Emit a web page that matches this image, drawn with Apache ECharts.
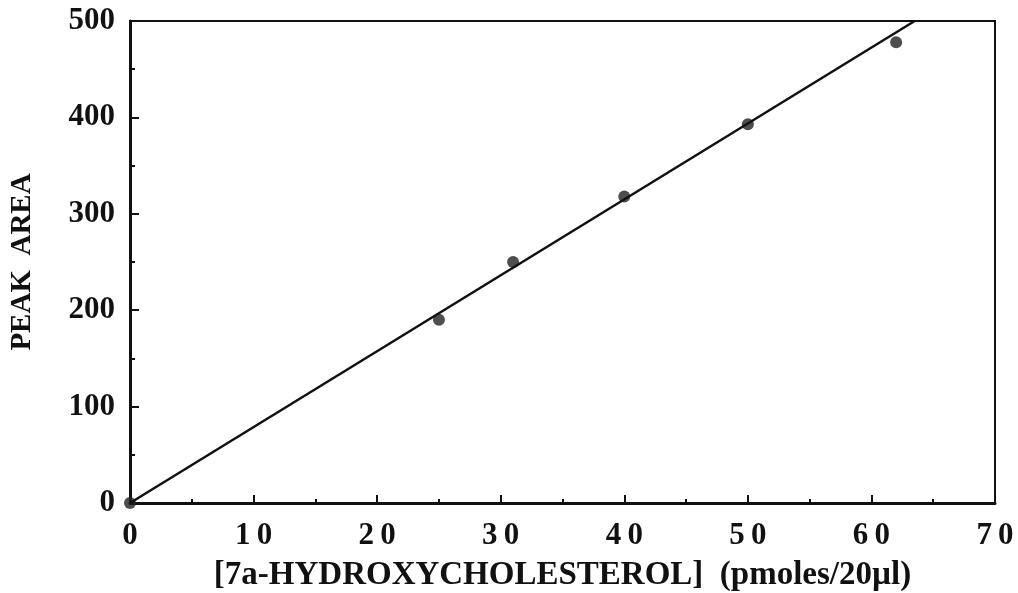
<!DOCTYPE html>
<html><head><meta charset="utf-8">
<script src="https://cdn.jsdelivr.net/npm/echarts@6/dist/echarts.min.js"></script>
<style>html,body{margin:0;padding:0;background:#fff}#c{width:1018px;height:593px}</style>
</head><body><div id="c"></div>
<script>
const pointX = [0, 25, 31, 40, 50, 62];
const pointY = [0, 190, 250, 318, 393, 478];
const lineX = [0, 63.5];
const lineY = [0, 500];
const xTicks = [0, 10, 20, 30, 40, 50, 60, 70];
const yTicks = [0, 100, 200, 300, 400, 500];
const xName = '[7a-HYDROXYCHOLESTEROL]  (pmoles/20\u00b5l)';
const yName = 'PEAK  AREA';

const font = '"Liberation Serif", "Times New Roman", serif';
const chart = echarts.init(document.getElementById('c'));
chart.setOption({
  animation: false,
  backgroundColor: '#fff',
  grid: {left: 130, right: 23, top: 21, bottom: 90, show: true, borderColor: '#111', borderWidth: 2,
         outerBoundsMode: 'none', containLabel: false},
  xAxis: {
    type: 'value', min: 0, max: 70, interval: 10,
    name: xName, nameLocation: 'middle', nameGap: 56,
    nameTextStyle: {fontFamily: font, fontWeight: 'bold', fontSize: 33, color: '#111'},
    axisLine: {lineStyle: {color: '#111', width: 3}},
    axisTick: {inside: true, length: 8, lineStyle: {color: '#111', width: 2}},
    minorTick: {show: true, splitNumber: 2, length: 4, lineStyle: {color: '#111', width: 2}},
    splitLine: {show: false},
    axisLabel: {fontFamily: font, fontWeight: 'bold', fontSize: 31, color: '#111', margin: 17,
      formatter: v => xTicks.includes(v) ? String(v).split('').join('\u2009') : ''}
  },
  yAxis: {
    type: 'value', min: 0, max: 500, interval: 100,
    name: yName, nameLocation: 'middle', nameGap: 93, nameRotate: 90,
    nameTextStyle: {fontFamily: font, fontWeight: 'bold', fontSize: 29, color: '#111'},
    axisLine: {lineStyle: {color: '#111', width: 3}},
    axisTick: {inside: true, length: 9, lineStyle: {color: '#111', width: 2}},
    minorTick: {show: true, splitNumber: 2, length: 5, lineStyle: {color: '#111', width: 2}},
    splitLine: {show: false},
    axisLabel: {fontFamily: font, fontWeight: 'bold', fontSize: 31, color: '#111', margin: 15,
      formatter: v => yTicks.includes(v) ? String(v) : ''}
  },
  series: [
    {type: 'line', data: lineX.map((x, i) => [x, lineY[i]]), symbol: 'none',
     lineStyle: {color: '#111', width: 2.5}, clip: true},
    {type: 'scatter', data: pointX.map((x, i) => [x, pointY[i]]), symbolSize: 12,
     itemStyle: {color: '#222'}}
  ]
});
</script></body></html>
